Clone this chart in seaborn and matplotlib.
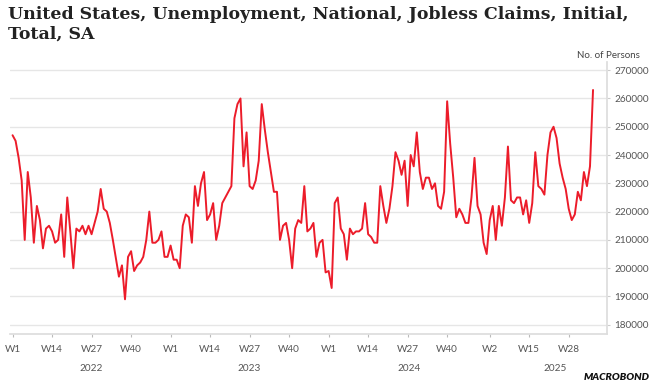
import numpy as np
import pandas as pd
import matplotlib
matplotlib.use('Agg')
import matplotlib.pyplot as plt
import seaborn as sns

# weekly initial jobless claims, SA, W1 2022 .. W36 2025
claims_2022 = [247000, 245000, 239000, 231000, 210000, 234000, 225000, 209000, 222000, 217000,
               207000, 214000, 215000, 213000, 209000, 210000, 219000, 204000, 225000, 213000,
               200000, 214000, 213000, 215000, 212000, 215000, 212000, 216000, 220000, 228000,
               221000, 220000, 216000, 210000, 203500, 197000, 201000, 189000, 204000, 206000,
               199000, 201000, 202000, 204000, 210000, 220000, 209000, 209000, 210000, 213000,
               204000, 204000]
claims_2023 = [208000, 203000, 203000, 200000, 215000, 219000, 218000, 209000, 229000, 222000,
               230000, 234000, 217000, 219000, 223000, 210000, 215000, 223000, 225000, 227000,
               229000, 253000, 258000, 260000, 236000, 248000, 229000, 228000, 231000, 238000,
               258000, 249000, 241000, 234000, 227000, 227000, 210000, 215000, 216000, 210000,
               200000, 214000, 217000, 216000, 229000, 213000, 214000, 216000, 204000, 209000,
               210000, 198500]
claims_2024 = [199000, 193000, 223000, 225000, 214000, 212000, 203000, 214000, 212000, 213000,
               213000, 214000, 223000, 212000, 211000, 209000, 209000, 229000, 222000, 216000,
               221000, 229000, 241000, 238000, 233000, 238000, 222000, 240000, 236000, 248000,
               234000, 228000, 232000, 232000, 228000, 230000, 222000, 221000, 227000, 259000,
               244000, 232000, 218000, 221000, 219000, 216000, 216000, 225000, 239000, 222000,
               219000, 209000]
claims_2025 = [205000, 217000, 222000, 210000, 222000, 215000, 225000, 243000, 224000, 223000,
               225000, 225000, 219000, 224000, 216000, 223000, 241000, 229000, 228000, 226000,
               240000, 248000, 250000, 246000, 237000, 232000, 228000, 221000, 217000, 219000,
               227000, 224000, 234000, 229000, 236000, 263000]

claims = claims_2022 + claims_2023 + claims_2024 + claims_2025

week_pos = [0, 13, 26, 39, 52, 65, 78, 91, 104, 117, 130, 143, 157, 170, 183]
week_labels = ['W1', 'W14', 'W27', 'W40', 'W1', 'W14', 'W27', 'W40',
               'W1', 'W14', 'W27', 'W40', 'W2', 'W15', 'W28']
year_starts = [0, 52, 104, 157]
year_pos = [25.7, 77.8, 130.6, 178.7]
year_labels = ['2022', '2023', '2024', '2025']
y_ticks = [180000, 190000, 200000, 210000, 220000, 230000, 240000, 250000, 260000, 270000]

df = pd.DataFrame({'week': np.arange(len(claims)), 'claims': claims})

sns.set_theme(style="white")
plt.rcParams['font.family'] = ['Lato', 'DejaVu Sans']

fig = plt.figure(figsize=(6.52, 3.88), dpi=100)
ax = fig.add_axes([0.0146, 0.1397, 0.9164, 0.7013])

sns.lineplot(data=df, x='week', y='claims', ax=ax, color='#ec1c2a', linewidth=1.4)

ax.set_xlim(-1, 195.6)
ax.set_ylim(176800, 273000)

# right-hand y axis
ax.yaxis.tick_right()
ax.set_yticks(y_ticks)
ax.set_yticklabels([str(v) for v in y_ticks], color='#555555', fontsize=7.2)
ax.tick_params(axis='y', length=2.5, width=0.8, color='#cccccc', pad=3, right=True, left=False)
ax.grid(axis='y', color='#e6e6e6', linewidth=1.0)

# x ticks: long at year starts, short elsewhere
ax.set_xticks(week_pos)
ax.set_xticklabels(week_labels, color='#555555', fontsize=7.2)
ax.tick_params(axis='x', length=2, width=0.8, color='#bbbbbb', pad=6, bottom=True)
ax.set_xticks(year_starts, minor=True)
ax.tick_params(axis='x', which='minor', length=5, width=0.8, color='#bbbbbb', bottom=True)

for x, lab in zip(year_pos, year_labels):
    ax.text(x, -0.128, lab, transform=ax.get_xaxis_transform(), ha='center', va='center',
            color='#555555', fontsize=7.2)

for side in ['top', 'left']:
    ax.spines[side].set_visible(False)
ax.spines['right'].set_color('#dddddd')
ax.spines['bottom'].set_color('#dddddd')
ax.set_xlabel('')
ax.set_ylabel('')

fig.text(0.012, 0.985, 'United States, Unemployment, National, Jobless Claims, Initial,\nTotal, SA',
         ha='left', va='top', fontsize=12.5, fontweight='bold', family='DejaVu Serif',
         color='#222222', linespacing=1.25)
fig.text(0.982, 0.858, 'No. of Persons', ha='right', va='center', color='#444444', fontsize=7)
fig.text(0.997, 0.028, 'MACROBOND', ha='right', va='center', fontsize=7.5,
         fontweight='heavy', style='italic', color='#111111')

plt.savefig('out.png', dpi=100)
